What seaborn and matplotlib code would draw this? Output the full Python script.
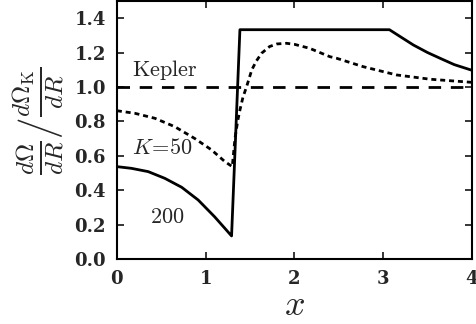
import numpy as np
import pandas as pd
import seaborn as sns
import matplotlib
matplotlib.use("Agg")
import matplotlib.pyplot as plt
import matplotlib.ticker

sns.set_style("ticks")
plt.rcParams["mathtext.fontset"] = "cm"
plt.rcParams["font.family"] = ["DejaVu Serif"]

# K=200 curve (solid)
x_k200 = [0.0, 0.165, 0.353, 0.54, 0.73, 0.916, 1.10, 1.217, 1.292, 1.386, 3.07,
          3.2, 3.34, 3.5, 3.64, 3.8, 4.0]
y_k200 = [0.537, 0.527, 0.508, 0.469, 0.417, 0.343, 0.246, 0.178, 0.134, 1.333, 1.333,
          1.29, 1.244, 1.20, 1.167, 1.13, 1.097]

# K=50 curve (dotted)
x_k50 = [0.0, 0.203, 0.428, 0.653, 0.879, 1.067, 1.217, 1.30, 1.33, 1.36, 1.386,
         1.42, 1.46, 1.52, 1.57, 1.63, 1.72, 1.80, 1.91, 2.0, 2.17, 2.4, 2.475,
         2.775, 3.15, 3.53, 4.0]
y_k50 = [0.862, 0.847, 0.818, 0.769, 0.70, 0.634, 0.566, 0.537, 0.70,
         0.80, 0.866, 0.94, 1.00, 1.10, 1.15, 1.196, 1.235, 1.25, 1.254, 1.248,
         1.225, 1.176, 1.167, 1.118, 1.07, 1.045, 1.027]

# Keplerian reference
x_kep = [0.0, 4.0]
y_kep = [1.0, 1.0]

fig = plt.figure(figsize=(4.77, 3.24), dpi=100)
ax = fig.add_axes([0.245, 0.2006, 0.7445, 0.7964])

sns.lineplot(x=x_kep, y=y_kep, ax=ax, color="black", lw=2, sort=False,
             estimator=None, linestyle=(0, (4.5, 3.5)))
sns.lineplot(x=x_k50, y=y_k50, ax=ax, color="black", lw=2, sort=False,
             estimator=None, linestyle=(0, (1.8, 1.4)))
sns.lineplot(x=x_k200, y=y_k200, ax=ax, color="black", lw=2, sort=False,
             estimator=None)

ax.set_xlim(0, 4)
ax.set_ylim(0, 1.5)
ax.set_xticks([0, 1, 2, 3, 4])
ax.set_yticks(np.arange(0, 1.41, 0.2))
ax.xaxis.set_major_formatter(matplotlib.ticker.FuncFormatter(lambda v, p: "%d" % v))
ax.yaxis.set_major_formatter(matplotlib.ticker.FuncFormatter(lambda v, p: "%.1f" % v))
ax.tick_params(direction="in", top=True, right=True, length=5, width=1.3,
               labelsize=13, pad=8)
for lab in ax.get_xticklabels() + ax.get_yticklabels():
    lab.set_fontweight("bold")
for s in ax.spines.values():
    s.set_linewidth(1.5)
    s.set_color("black")

ax.set_xlabel(r"$x$", fontsize=26, labelpad=0)
ax.set_ylabel(r"$\left.\frac{d\Omega}{dR}\right/\frac{d\Omega_{\rm K}}{dR}$", fontsize=26)
ax.yaxis.set_label_coords(-0.14, 0.535)

ax.text(0.165, 1.10, r"$\mathrm{Kepler}$", fontsize=16, va="center", ha="left")
ax.text(0.165, 0.645, r"$K\!=\!\mathrm{50}$", fontsize=16, va="center", ha="left")
ax.text(0.37, 0.246, r"$\mathrm{200}$", fontsize=16, va="center", ha="left")

fig.savefig("out.png", dpi=100)
